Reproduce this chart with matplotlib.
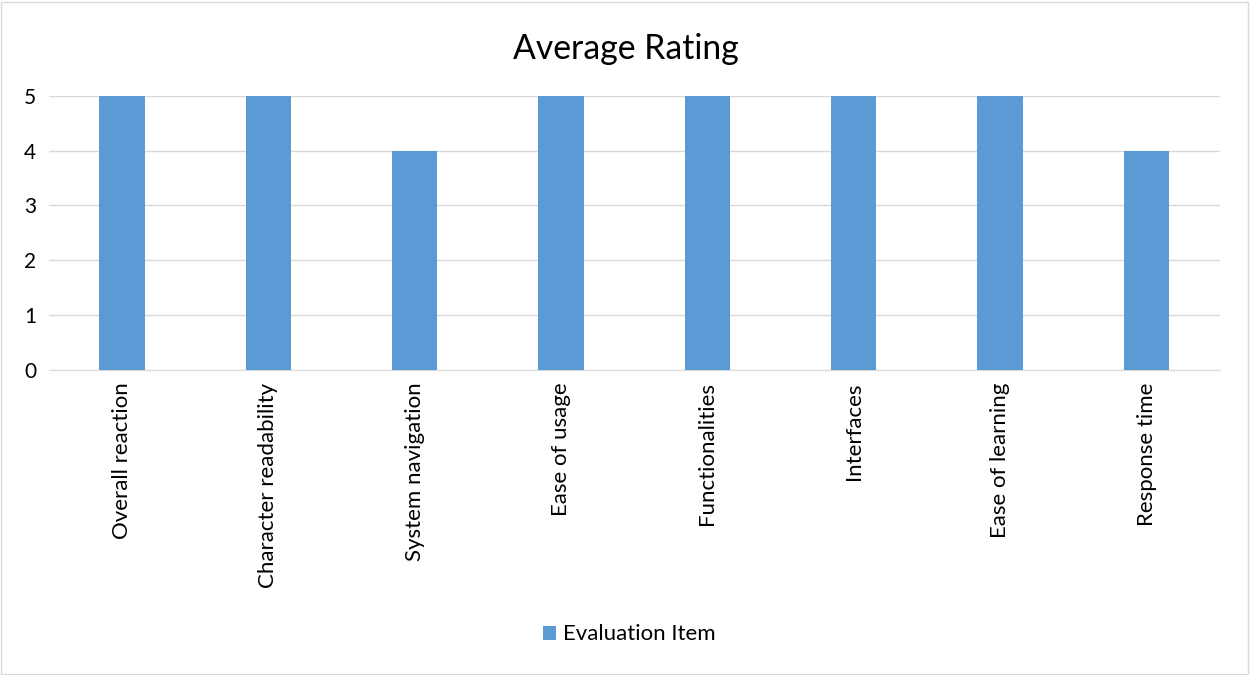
import matplotlib.pyplot as plt
from matplotlib.patches import Rectangle

items = ['Overall reaction', 'Character readability', 'System navigation', 'Ease of usage',
         'Functionalities', 'Interfaces', 'Ease of learning', 'Response time']
ratings = [5, 5, 4, 5, 5, 5, 5, 4]
series_name = 'Evaluation Item'

plt.rcParams['font.family'] = ['Lato', 'DejaVu Sans']

fig = plt.figure(figsize=(12.51, 6.75), dpi=100)
ax = fig.add_axes([0.039, 0.452, 0.936, 0.406])

x = range(len(items))
ax.bar(x, ratings, width=0.31, color='#5B9BD5', label=series_name, zorder=3)

ax.set_xlim(-0.5, len(items) - 0.5)
ax.set_ylim(0, 5)
ax.set_yticks(range(6))
ax.set_xticks(list(x))
ax.set_xticklabels(items, rotation=90, fontsize=16, color='#000000')
ax.tick_params(axis='y', labelsize=15, length=0, pad=9)
ax.tick_params(axis='x', length=0, pad=9)
ax.grid(axis='y', color='#D9D9D9', linewidth=1, zorder=0)
for s in ['top', 'right', 'left']:
    ax.spines[s].set_visible(False)
ax.spines['bottom'].set_color('#D9D9D9')

fig.text(0.5, 0.928, 'Average Rating', ha='center', va='center', fontsize=24.3)
fig.legend(loc='center', bbox_to_anchor=(0.503, 0.06), frameon=False, fontsize=16,
           handlelength=0.6, handleheight=0.6, handletextpad=0.3)

fig.patches.append(Rectangle((0.001, 0.002), 0.997, 0.995, transform=fig.transFigure,
                             fill=False, edgecolor='#D9D9D9', linewidth=1))

fig.savefig('out.png', dpi=100, facecolor='white')
